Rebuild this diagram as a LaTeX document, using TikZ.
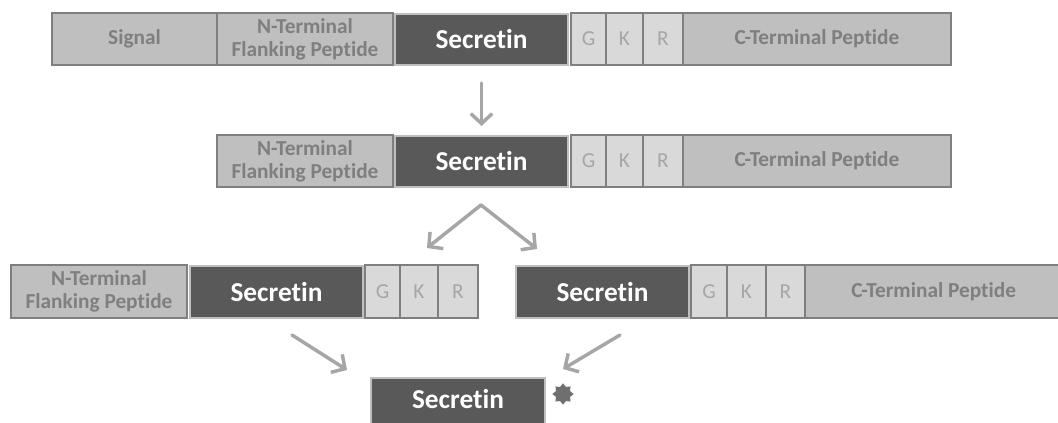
\documentclass[tikz,border=0pt]{standalone}
\usepackage{fontspec}
\setmainfont[Ligatures={NoCommon}]{Carlito}
\usetikzlibrary{arrows.meta,shapes.geometric}
\definecolor{boxgray}{HTML}{BFBFBF}
\definecolor{edgegray}{HTML}{7F7F7F}
\definecolor{textgray}{HTML}{7F7F7F}
\definecolor{darkbox}{HTML}{595959}
\definecolor{lightbox}{HTML}{D9D9D9}
\definecolor{lighttext}{HTML}{A6A6A6}
\definecolor{arrowgray}{HTML}{A6A6A6}
\definecolor{stargray}{HTML}{6F6F6F}
\begin{document}
\begin{tikzpicture}[x=0.75pt,y=-0.75pt,
  seg/.style={inner sep=0pt, outer sep=0pt, line width=1.5pt, anchor=north west},
  w/.style={minimum width=#1*0.75pt},
  h/.style={minimum height=#1*0.75pt},
  graybox/.style={seg, fill=boxgray, draw=edgegray, text=textgray,
    font=\bfseries\fontsize{16}{17}\selectfont, align=center},
  secbox/.style={seg, fill=darkbox, draw=boxgray, text=white,
    font=\bfseries\fontsize{20.5}{24}\selectfont},
  aabox/.style={seg, fill=lightbox, draw=edgegray, text=lighttext,
    font=\fontsize{16}{17}\selectfont},
  arr/.style={draw=arrowgray, line width=2.6pt, line cap=round,
    -{Straight Barb[length=7.5pt,width=16pt]}}
]
\fill[white] (0,0) rectangle (1058,423);
\useasboundingbox (0,0) rectangle (1058,423);
% Row 1
\node[graybox, w=165, h=52] (sig) at (52,13) {Signal};
\node[graybox, w=176, h=52] (n1) at (217,13) {N-Terminal\\Flanking Peptide};
\node[secbox, w=173, h=51] (s1) at (395,14) {Secretin};
\node[aabox, w=35, h=52] (g1) at (571,13) {G};
\node[aabox, w=37, h=52] (k1) at (606,13) {K};
\node[aabox, w=40, h=52] (r1) at (643,13) {R};
\node[graybox, w=268, h=52] (c1) at (683,13) {C-Terminal Peptide};
% Row 2
\node[graybox, w=176, h=52] (n2) at (217,135) {N-Terminal\\Flanking Peptide};
\node[secbox, w=173, h=51] (s2) at (395,136) {Secretin};
\node[aabox, w=35, h=52] (g2) at (571,135) {G};
\node[aabox, w=37, h=52] (k2) at (606,135) {K};
\node[aabox, w=40, h=52] (r2) at (643,135) {R};
\node[graybox, w=268, h=52] (c2) at (683,135) {C-Terminal Peptide};
% Row 3 left
\node[graybox, w=176, h=53] (n3) at (11,265) {N-Terminal\\Flanking Peptide};
\node[secbox, w=173, h=52] (s3) at (190,266) {Secretin};
\node[aabox, w=35, h=53] (g3) at (365,265) {G};
\node[aabox, w=38, h=53] (k3) at (400,265) {K};
\node[aabox, w=40, h=53] (r3) at (438,265) {R};
% Row 3 right
\node[secbox, w=173, h=52] (s4) at (516,266) {Secretin};
\node[aabox, w=36, h=53] (g4) at (691,265) {G};
\node[aabox, w=39, h=53] (k4) at (727,265) {K};
\node[aabox, w=39, h=53] (r4) at (766,265) {R};
\node[graybox, w=268, h=53] (c4) at (805,265) {\hspace*{-8pt}C-Terminal Peptide};
% Bottom
\node[secbox, w=174, h=52] (s5) at (371,378) {\raisebox{7pt}{Secretin}};
\node[star, star points=8, star point ratio=1.4, fill=stargray, inner sep=0pt,
  minimum size=16pt] (badge) at (563,394) {};
% Connectors
\draw[arr, shorten <=13.5pt, shorten >=7.5pt] (s1.south) -- (s2.north);
\coordinate (apex) at (481,205);
\coordinate (tl) at (427,248);
\coordinate (tr) at (537,249);
\draw[arr] (apex) -- (tl);
\draw[arr] (apex) -- (tr);
\coordinate (la) at (292,335);
\coordinate (lb) at (347,370);
\coordinate (ra) at (620,335);
\coordinate (rb) at (563,369);
\draw[arr] (la) -- (lb);
\draw[arr] (ra) -- (rb);
\end{tikzpicture}
\end{document}
